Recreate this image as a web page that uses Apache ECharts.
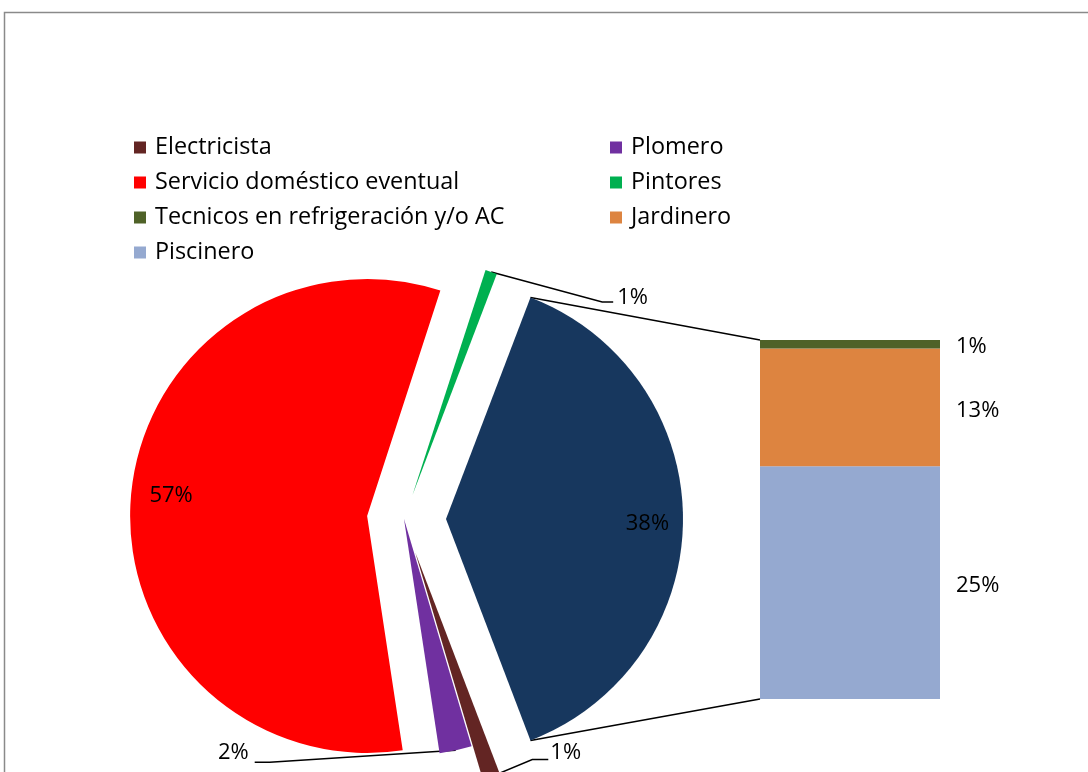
<!DOCTYPE html>
<html>
<head>
<meta charset="utf-8">
<script src="https://cdn.jsdelivr.net/npm/echarts@6/dist/echarts.min.js"></script>
<style>
  html, body { margin: 0; padding: 0; background: #fff; }
  #chart { width: 1088px; height: 772px; }
</style>
</head>
<body>
<div id="chart"></div>
<script>
// Share of each trade (%) shown as pie slices
const pieNames = ['Electricista', 'Plomero', 'Servicio doméstico eventual', 'Pintores'];
const pieValues = [1.2, 2.2, 57.4, 0.8];
// Trades grouped into the "other" slice and broken out in the side bar (%), top to bottom
const barNames = ['Tecnicos en refrigeración y/o AC', 'Jardinero', 'Piscinero'];
const barValues = [0.9, 12.6, 24.9];
const otherName = 'Otros';

// Styling
const FONT = '"Open Sans", "Liberation Sans", sans-serif';
const FS = 22;
const LEGEND_FS = 23.4;
const pieColors = ['#632523', '#7030a0', '#ff0000', '#00b050'];
const otherColor = '#17375e';
const barColors = ['#4f6228', '#dd8440', '#95a9d0'];
const explode = [35, 0, 37, 25, 42];            // px each slice is pulled out
const labelMode = ['out', 'out', 'in', 'out', 'in'];
const insideFrac = [0, 0, 0.83, 0, 0.85];         // radial position of inside labels
const insideNudge = [null, null, [0, -4], null, [0, 5]];
// outside labels: offset from the slice's outer edge point, text alignment
const labelShift = [[59, -24, 'left'], [-207, 2, 'right'], null, [126, 26, 'left'], null];
// leader line: elbow and end, relative to the label anchor
const lineElbow = [[-18, 7], [21, 10], null, [-15, 4], null];
const lineEnd = [[-2, 7], [6, 10], null, [-4, 4], null];
const PIE_C = [404, 519];
const PIE_R = 237;

const allNames = pieNames.concat([otherName]);
const otherValue = +barValues.reduce((a, b) => a + b, 0).toFixed(1);
const allValues = pieValues.concat([otherValue]);
const allColors = pieColors.concat([otherColor]);
const total = allValues.reduce((a, b) => a + b, 0);
// the grouped slice faces right, centred on 3 o'clock
const startAngle = 360 - otherValue / total * 180;

// slice angles in degrees (counter-clockwise from 3 o'clock, pie runs clockwise)
const sliceStart = [], sliceEnd = [];
let acc = startAngle;
allValues.forEach(v => { sliceStart.push(acc); acc -= v / total * 360; sliceEnd.push(acc); });
const bis = sliceStart.map((s, i) => (s + sliceEnd[i]) / 2 * Math.PI / 180);
const centers = bis.map((b, i) => [PIE_C[0] + explode[i] * Math.cos(b), PIE_C[1] - explode[i] * Math.sin(b)]);

const pctText = v => Math.round(v / total * 100) + '%';
const textBase = { fontFamily: FONT, fontSize: FS, color: '#000' };

// one pie layer per slice so each can be pulled out by its own distance
const pieSeries = allNames.map((_, i) => ({
  type: 'pie',
  center: centers[i],
  radius: PIE_R,
  startAngle: startAngle,
  clockwise: true,
  avoidLabelOverlap: false,
  silent: true,
  animation: false,
  emphasis: { disabled: true },
  itemStyle: { borderWidth: 0 },
  label: { show: false },
  labelLine: { show: false },
  data: allNames.map((n, j) => {
    const own = j === i;
    return {
      name: n,
      value: allValues[j],
      itemStyle: { color: own ? allColors[j] : 'rgba(0,0,0,0)' },
      label: own ? Object.assign({
        show: true,
        position: labelMode[j] === 'in' ? 'inside' : 'outside',
        formatter: p => pctText(p.value)
      }, textBase) : { show: false },
      labelLine: own && labelMode[j] === 'out'
        ? { show: true, length: 10, length2: 10, lineStyle: { color: '#000', width: 1.5 } }
        : { show: false }
    };
  }),
  labelLayout: p => {
    if (p.dataIndex !== i) return {};
    const b = bis[i];
    const c = centers[i];
    if (labelMode[i] === 'in') {
      const d = insideFrac[i] * PIE_R;
      return {
        x: c[0] + d * Math.cos(b) + insideNudge[i][0],
        y: c[1] - d * Math.sin(b) + insideNudge[i][1],
        align: 'center', verticalAlign: 'middle'
      };
    }
    const s = [c[0] + PIE_R * Math.cos(b), c[1] - PIE_R * Math.sin(b)];
    const sh = labelShift[i];
    const x = s[0] + sh[0], y = s[1] + sh[1];
    return {
      x: x, y: y, align: sh[2], verticalAlign: 'middle',
      labelLinePoints: [
        s,
        [x + lineElbow[i][0], y + lineElbow[i][1]],
        [x + lineEnd[i][0], y + lineEnd[i][1]]
      ]
    };
  }
}));

// stacked bar, bottom segment first
const barOrder = barNames.map((_, k) => k).reverse();
const barSeries = barOrder.map(k => ({
  type: 'bar',
  name: barNames[k],
  stack: 'otros',
  barWidth: '100%',
  silent: true,
  animation: false,
  xAxisIndex: 0,
  yAxisIndex: 0,
  itemStyle: { color: barColors[k] },
  label: Object.assign({
    show: true, position: 'right', distance: 16, offset: [0, 3],
    formatter: p => pctText(p.value)
  }, textBase),
  data: [barValues[k]]
}));

// legend: two columns, filled row by row
const legendNames = pieNames.concat(barNames);
const legendColors = pieColors.concat(barColors);
const legendItems = legendNames.map((n, k) => ({ name: n, itemStyle: { color: legendColors[k] } }));
const legendCommon = {
  orient: 'vertical', top: 136, padding: 0, icon: 'rect', itemWidth: 12, itemHeight: 12, itemGap: 12,
  selectedMode: false,
  textStyle: { fontFamily: FONT, fontSize: LEGEND_FS, color: '#000', padding: [0, 0, 0, 4], lineHeight: 23 }
};

const chart = echarts.init(document.getElementById('chart'), null, { renderer: 'canvas' });
chart.setOption({
  backgroundColor: '#fff',
  animation: false,
  legend: [
    Object.assign({ left: 134, data: legendItems.filter((_, k) => k % 2 === 0) }, legendCommon),
    Object.assign({ left: 610, data: legendItems.filter((_, k) => k % 2 === 1) }, legendCommon)
  ],
  grid: { left: 760, top: 340, width: 180, height: 359 },
  xAxis: { type: 'category', data: [otherName], show: false },
  yAxis: { type: 'value', min: 0, max: otherValue, show: false },
  series: pieSeries.concat(barSeries)
});

// frame and the two lines joining the grouped slice to the bar
const gridRect = chart.getModel().getComponent('grid', 0).coordinateSystem.getRect();
const barTop = chart.convertToPixel({ yAxisIndex: 0 }, otherValue);
const barBottom = chart.convertToPixel({ yAxisIndex: 0 }, 0);
const oi = allNames.length - 1;
const oc = centers[oi];
const a1 = sliceStart[oi] * Math.PI / 180, a2 = sliceEnd[oi] * Math.PI / 180;
const p1 = [oc[0] + PIE_R * Math.cos(a1), oc[1] - PIE_R * Math.sin(a1)];
const p2 = [oc[0] + PIE_R * Math.cos(a2), oc[1] - PIE_R * Math.sin(a2)];
chart.setOption({
  graphic: [
    { type: 'rect', silent: true, shape: { x: 4.5, y: 12.5, width: 1200, height: 1000 },
      style: { fill: 'none', stroke: '#8a8a8a', lineWidth: 1.5 } },
    { type: 'line', silent: true, shape: { x1: p1[0], y1: p1[1], x2: gridRect.x, y2: barTop },
      style: { stroke: '#000', lineWidth: 1.5 } },
    { type: 'line', silent: true, shape: { x1: p2[0], y1: p2[1], x2: gridRect.x, y2: barBottom },
      style: { stroke: '#000', lineWidth: 1.5 } }
  ]
});
</script>
</body>
</html>
